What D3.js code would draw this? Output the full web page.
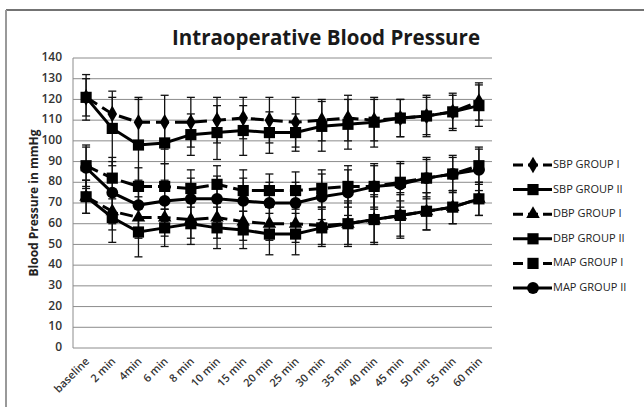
<!DOCTYPE html>
<html>
<head>
<meta charset="utf-8">
<script src="https://cdnjs.cloudflare.com/ajax/libs/d3/7.8.5/d3.min.js"></script>
<style>
  body { margin: 0; background: #fff; }
  svg { display: block; font-family: "Open Sans", "Liberation Sans", sans-serif; }
</style>
</head>
<body>
<div id="chart"></div>
<script>
// Categories (x axis)
const times = ["baseline", "2 min", "4min", "6 min", "8 min", "10 min", "15 min", "20 min",
  "25 min", "30 min", "35 min", "40 min", "45 min", "50 min", "55 min", "60 min"];

// Series means
const sbp1 = [121, 113, 109, 109, 109, 110, 111, 110, 109, 110, 111, 110, 111, 112, 114, 119];
const sbp2 = [121, 106, 98, 99, 103, 104, 105, 104, 104, 107, 108, 109, 111, 112, 114, 117];
const dbp1 = [73, 66, 63, 63, 62, 63, 61, 60, 60, 59, 60, 62, 64, 66, 68, 72];
const dbp2 = [73, 63, 56, 58, 60, 58, 57, 55, 55, 58, 60, 62, 64, 66, 68, 72];
const map1 = [88, 82, 78, 78, 77, 79, 76, 76, 76, 77, 78, 78, 80, 82, 84, 88];
const map2 = [87, 75, 69, 71, 72, 72, 71, 70, 70, 73, 75, 78, 79, 82, 84, 86];

// Standard deviations (error bars)
const sbp1Sd = [9, 8, 12, 13, 12, 11, 10, 11, 12, 10, 11, 10, 9, 9, 8, 9];
const sbp2Sd = [11, 18, 22, 10, 10, 13, 12, 10, 9, 12, 12, 12, 9, 10, 9, 10];
const dbp1Sd = [8, 9, 10, 9, 9, 10, 9, 8, 9, 9, 10, 11, 10, 9, 8, 8];
const dbp2Sd = [8, 12, 12, 9, 10, 10, 9, 10, 10, 9, 11, 12, 11, 9, 8, 8];
const map1Sd = [10, 10, 9, 11, 9, 9, 10, 8, 9, 9, 10, 10, 9, 9, 8, 9];
const map2Sd = [10, 15, 12, 10, 10, 11, 11, 10, 10, 11, 11, 11, 11, 10, 9, 10];

const legendLabels = ["SBP GROUP I", "SBP GROUP II", "DBP GROUP I", "DBP GROUP II", "MAP GROUP I", "MAP GROUP II"];
const yTicks = [0, 10, 20, 30, 40, 50, 60, 70, 80, 90, 100, 110, 120, 130, 140];

const series = [
  { name: legendLabels[0], values: sbp1, sd: sbp1Sd, dashed: true, marker: "diamond" },
  { name: legendLabels[1], values: sbp2, sd: sbp2Sd, dashed: false, marker: "square" },
  { name: legendLabels[2], values: dbp1, sd: dbp1Sd, dashed: true, marker: "triangle" },
  { name: legendLabels[3], values: dbp2, sd: dbp2Sd, dashed: false, marker: "square" },
  { name: legendLabels[4], values: map1, sd: map1Sd, dashed: true, marker: "square" },
  { name: legendLabels[5], values: map2, sd: map2Sd, dashed: false, marker: "circle" }
];

const W = 644, H = 407;
const margin = { top: 58, right: 152, bottom: 59, left: 73 };
const width = W - margin.left - margin.right;
const height = H - margin.top - margin.bottom;

const svg = d3.select("#chart").append("svg")
  .attr("width", W)
  .attr("height", H);

// outer frame (top and left edges only)
svg.append("path")
  .attr("d", `M6,10H${W}`)
  .attr("stroke", "#444")
  .attr("stroke-width", 1.5)
  .attr("fill", "none");
svg.append("path")
  .attr("d", `M6,10V${H}`)
  .attr("stroke", "#999")
  .attr("stroke-width", 2)
  .attr("fill", "none");

// title
svg.append("text")
  .attr("x", 326)
  .attr("y", 45)
  .attr("text-anchor", "middle")
  .attr("font-size", "21px")
  .attr("font-weight", "bold")
  .attr("fill", "#1a1a1a")
  .attr("textLength", 308)
  .attr("lengthAdjust", "spacingAndGlyphs")
  .text("Intraoperative Blood Pressure");

const g = svg.append("g")
  .attr("transform", `translate(${margin.left},${margin.top})`);

const x = d3.scaleBand()
  .domain(times)
  .range([0, width]);

const y = d3.scaleLinear()
  .domain([0, 140])
  .range([height, 0]);

const cx = d => x(d) + x.bandwidth() / 2;

// grid lines
g.selectAll(".grid")
  .data(yTicks)
  .enter()
  .append("line")
  .attr("class", "grid")
  .attr("x1", 0)
  .attr("x2", width)
  .attr("y1", d => y(d))
  .attr("y2", d => y(d))
  .attr("stroke", "#8c8c8c")
  .attr("stroke-width", 1);

// y axis line
g.append("path")
  .attr("d", `M0,0V${height}`)
  .attr("stroke", "#8c8c8c")
  .attr("stroke-width", 1);

// y tick labels
g.selectAll(".y-label")
  .data(yTicks)
  .enter()
  .append("text")
  .attr("class", "y-label")
  .attr("x", -11)
  .attr("y", d => y(d))
  .attr("text-anchor", "end")
  .attr("dominant-baseline", "middle")
  .attr("font-size", "12px")
  .attr("font-weight", 600)
  .attr("fill", "#333")
  .text(d => d);

// x tick labels, rotated
g.selectAll(".x-label")
  .data(times)
  .enter()
  .append("text")
  .attr("class", "x-label")
  .attr("transform", d => `translate(${cx(d) + 4},${height + 14}) rotate(-45)`)
  .attr("text-anchor", "end")
  .attr("font-size", "11px")
  .attr("font-weight", 600)
  .attr("fill", "#333")
  .text(d => d);

// y axis title
svg.append("text")
  .attr("transform", `translate(38,${margin.top + height / 2}) rotate(-90)`)
  .attr("text-anchor", "middle")
  .attr("font-size", "12px")
  .attr("font-weight", "bold")
  .attr("fill", "#222")
  .text("Blood Pressure in mmHg");

const symbolFor = m => {
  if (m === "diamond") return d3.symbol().type(d3.symbolDiamond).size(80);
  if (m === "triangle") return d3.symbol().type(d3.symbolTriangle).size(80);
  if (m === "circle") return d3.symbol().type(d3.symbolCircle).size(110);
  return d3.symbol().type(d3.symbolSquare).size(125);
};

const line = d3.line()
  .x((d, i) => cx(times[i]))
  .y(d => y(d));

// error bars
series.forEach(s => {
  const eg = g.append("g");
  s.values.forEach((v, i) => {
    const px = cx(times[i]);
    const lo = y(v - s.sd[i]), hi = y(v + s.sd[i]);
    eg.append("line")
      .attr("x1", px).attr("x2", px)
      .attr("y1", lo).attr("y2", hi)
      .attr("stroke", "#111").attr("stroke-width", 1.3);
    [lo, hi].forEach(yy => {
      eg.append("line")
        .attr("x1", px - 4).attr("x2", px + 4)
        .attr("y1", yy).attr("y2", yy)
        .attr("stroke", "#111").attr("stroke-width", 1.3);
    });
  });
});

// lines and markers
series.forEach(s => {
  g.append("path")
    .datum(s.values)
    .attr("fill", "none")
    .attr("stroke", "#000")
    .attr("stroke-width", 3)
    .attr("stroke-dasharray", s.dashed ? "13,6" : null)
    .attr("d", line);

  g.selectAll(null)
    .data(s.values)
    .enter()
    .append("path")
    .attr("transform", (d, i) => `translate(${cx(times[i])},${y(d)})`)
    .attr("d", symbolFor(s.marker)())
    .attr("fill", "#000");
});

// legend
const legend = svg.append("g")
  .attr("transform", "translate(513,165)");

series.forEach((s, i) => {
  const row = legend.append("g")
    .attr("transform", `translate(0,${i * 24.6})`);
  row.append("line")
    .attr("x1", 0).attr("x2", 39)
    .attr("y1", 0).attr("y2", 0)
    .attr("stroke", "#000")
    .attr("stroke-width", 3)
    .attr("stroke-dasharray", s.dashed ? "10,5" : null);
  row.append("path")
    .attr("transform", "translate(20,0)")
    .attr("d", symbolFor(s.marker)())
    .attr("fill", "#000");
  row.append("text")
    .attr("x", 40)
    .attr("y", 0)
    .attr("dominant-baseline", "middle")
    .attr("font-size", "11px")
    .attr("fill", "#222")
    .text(s.name);
});
</script>
</body>
</html>
